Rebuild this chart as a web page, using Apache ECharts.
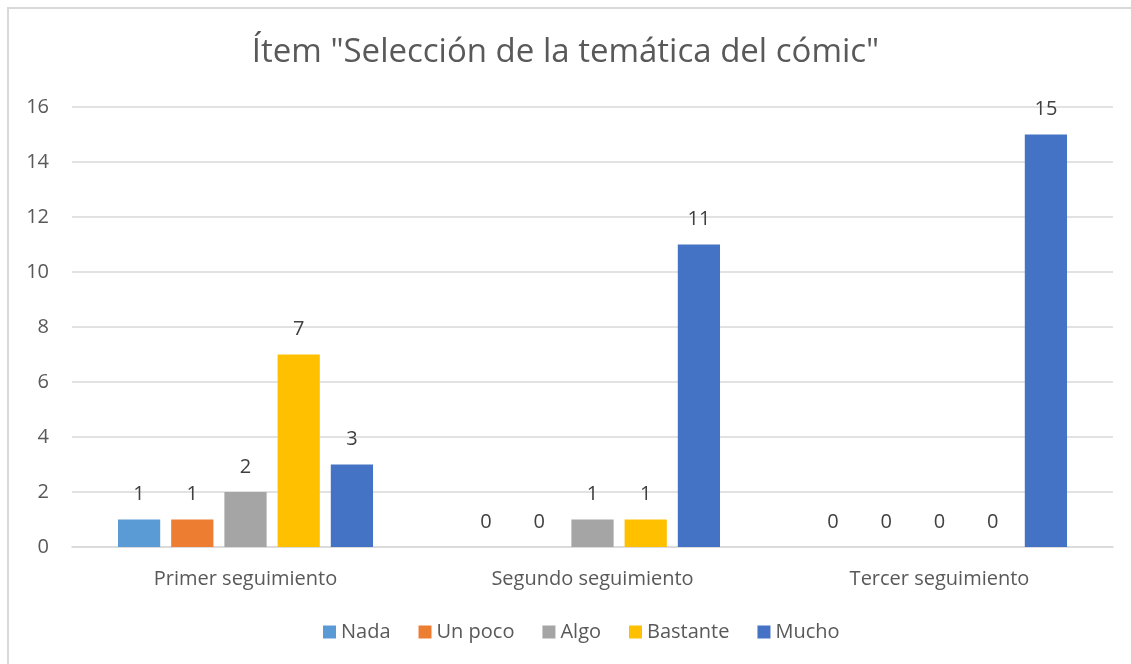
<!DOCTYPE html>
<html>
<head>
<meta charset="utf-8">
<script src="https://cdn.jsdelivr.net/npm/echarts@6/dist/echarts.min.js"></script>
<style>
  html, body { margin: 0; padding: 0; background: #fff; }
  #myChart { width: 1131px; height: 664px; }
</style>
</head>
<body>
<div id="myChart"></div>
<script>
var categories = ['Primer seguimiento', 'Segundo seguimiento', 'Tercer seguimiento']
var seriesNames = ['Nada', 'Un poco', 'Algo', 'Bastante', 'Mucho']
var nada = [1, 0, 0]
var unPoco = [1, 0, 0]
var algo = [2, 1, 0]
var bastante = [7, 1, 0]
var mucho = [3, 11, 15]
var yTicks = [0, 2, 4, 6, 8, 10, 12, 14, 16]

var colors = ['#5B9BD5', '#ED7D31', '#A5A5A5', '#FFC000', '#4472C4']
var values = [nada, unPoco, algo, bastante, mucho]
var font = '"Open Sans", "Noto Sans", sans-serif'

var myChart = echarts.init(document.getElementById('myChart'))

var series = seriesNames.map(function (name, i) {
  return {
    name: name,
    type: 'bar',
    data: values[i],
    barGap: '26%',
    barCategoryGap: '26.5%',
    itemStyle: { color: colors[i] },
    label: {
      show: true,
      position: 'top',
      distance: 15,
      color: '#404040',
      fontSize: 20,
      fontFamily: font
    }
  }
})

var option = {
  animation: false,
  color: colors,
  title: {
    text: 'Ítem "Selección de la temática del cómic"',
    left: 'center',
    top: 31,
    textStyle: {
      color: '#595959',
      fontSize: 33,
      fontWeight: 'normal',
      fontFamily: font
    }
  },
  graphic: [{
    type: 'rect',
    shape: { x: 8, y: 8, width: 1200, height: 700 },
    style: { fill: 'none', stroke: '#d9d9d9', lineWidth: 2 },
    silent: true
  }],
  legend: {
    data: seriesNames,
    bottom: 17,
    left: 318,
    itemWidth: 13,
    itemHeight: 13,
    itemGap: 28,
    icon: 'rect',
    textStyle: { color: '#595959', fontSize: 20, fontFamily: font }
  },
  grid: {
    left: 72,
    right: 18,
    top: 107,
    bottom: 117
  },
  xAxis: {
    type: 'category',
    data: categories,
    axisTick: { show: false },
    axisLine: { lineStyle: { color: '#d9d9d9', width: 1.5 } },
    axisLabel: { color: '#595959', fontSize: 20, fontFamily: font, margin: 22 }
  },
  yAxis: {
    type: 'value',
    min: yTicks[0],
    max: yTicks[yTicks.length - 1],
    interval: yTicks[1] - yTicks[0],
    axisLine: { show: false },
    axisTick: { show: false },
    splitLine: { lineStyle: { color: '#d9d9d9', width: 1.5 } },
    axisLabel: { color: '#595959', fontSize: 20, fontFamily: font, margin: 23 }
  },
  series: series
}
myChart.setOption(option, true)
</script>
</body>
</html>
